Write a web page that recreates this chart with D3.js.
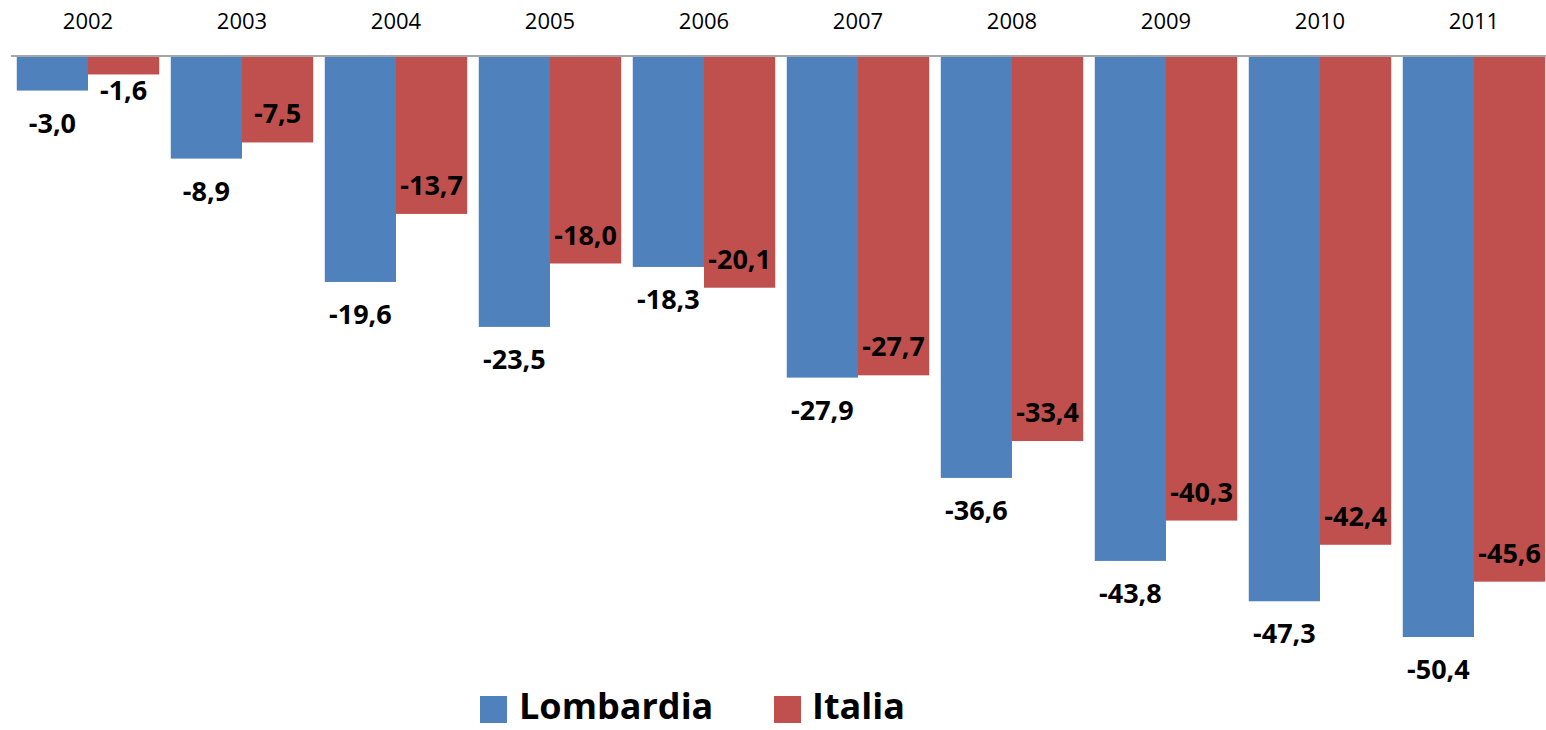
<!DOCTYPE html>
<html><head><meta charset="utf-8">
<script src="https://cdn.jsdelivr.net/npm/d3@7"></script>
<style>html,body{margin:0;padding:0;background:#fff;overflow:hidden}svg{display:block}</style>
</head><body>
<svg id="c" width="1546" height="730"></svg>
<script>
const years = ["2002","2003","2004","2005","2006","2007","2008","2009","2010","2011"];
const lombardia = [-3.0,-8.9,-19.6,-23.5,-18.3,-27.9,-36.6,-43.8,-47.3,-50.4];
const italia = [-1.6,-7.5,-13.7,-18.0,-20.1,-27.7,-33.4,-40.3,-42.4,-45.6];
const seriesNames = ["Lombardia","Italia"];
const colors = ["#4F81BD","#C0504D"];

const svg = d3.select("#c");
const font = "'Open Sans', 'Liberation Sans', sans-serif";
const x = d3.scaleBand().domain(years).range([11,1551]).paddingInner(0.075).paddingOuter(0.0375);
const x1 = d3.scaleBand().domain(seriesNames).range([0, x.bandwidth()]);
const y = d3.scaleLinear().domain([0,-50.4]).range([56,637]);
const locale = d3.formatLocale({decimal:",", thousands:".", grouping:[3], currency:["","€"], minus:"-"});
const fmt = locale.format(".1f");

const series = [lombardia, italia];
series.forEach((vals, si) => {
  const g = svg.append("g");
  g.selectAll("rect").data(years).join("rect")
    .attr("x", d => x(d) + x1(seriesNames[si]))
    .attr("y", y(0))
    .attr("width", x1.bandwidth())
    .attr("height", (d,i) => y(vals[i]) - y(0))
    .attr("fill", colors[si]);
  g.selectAll("text").data(years).join("text")
    .attr("x", d => x(d) + x1(seriesNames[si]) + x1.bandwidth()/2)
    .attr("y", (d,i) => si === 0 ? y(vals[i]) + 42 : Math.max(y(vals[i]) - 19, y(0) + 44))
    .attr("text-anchor","middle")
    .attr("font-family", font).attr("font-weight","bold").attr("font-size", 27)
    .attr("fill","#000")
    .text((d,i) => fmt(vals[i]));
});

// axis line + year labels on top
svg.append("line").attr("x1",11).attr("x2",1546).attr("y1",y(0)).attr("y2",y(0))
  .attr("stroke","#A6A6A6").attr("stroke-width",2);
const ax = d3.axisTop(x).tickSize(0).tickPadding(0);
const axg = svg.append("g").attr("transform","translate(0,29)").call(ax);
axg.select(".domain").remove();
axg.selectAll("text").attr("font-family", font).attr("font-size", 22).attr("fill","#000");

// legend
const leg = [{name:"Lombardia", sx:480, tx:519}, {name:"Italia", sx:774, tx:812}];
leg.forEach((l,i) => {
  svg.append("rect").attr("x", l.sx).attr("y", 696).attr("width",27).attr("height",27).attr("fill",colors[i]);
  svg.append("text").attr("x", l.tx).attr("y", 719).attr("font-family", font).attr("font-weight","bold")
    .attr("font-size", 36).attr("fill","#000").text(l.name);
});
</script>
</body></html>
